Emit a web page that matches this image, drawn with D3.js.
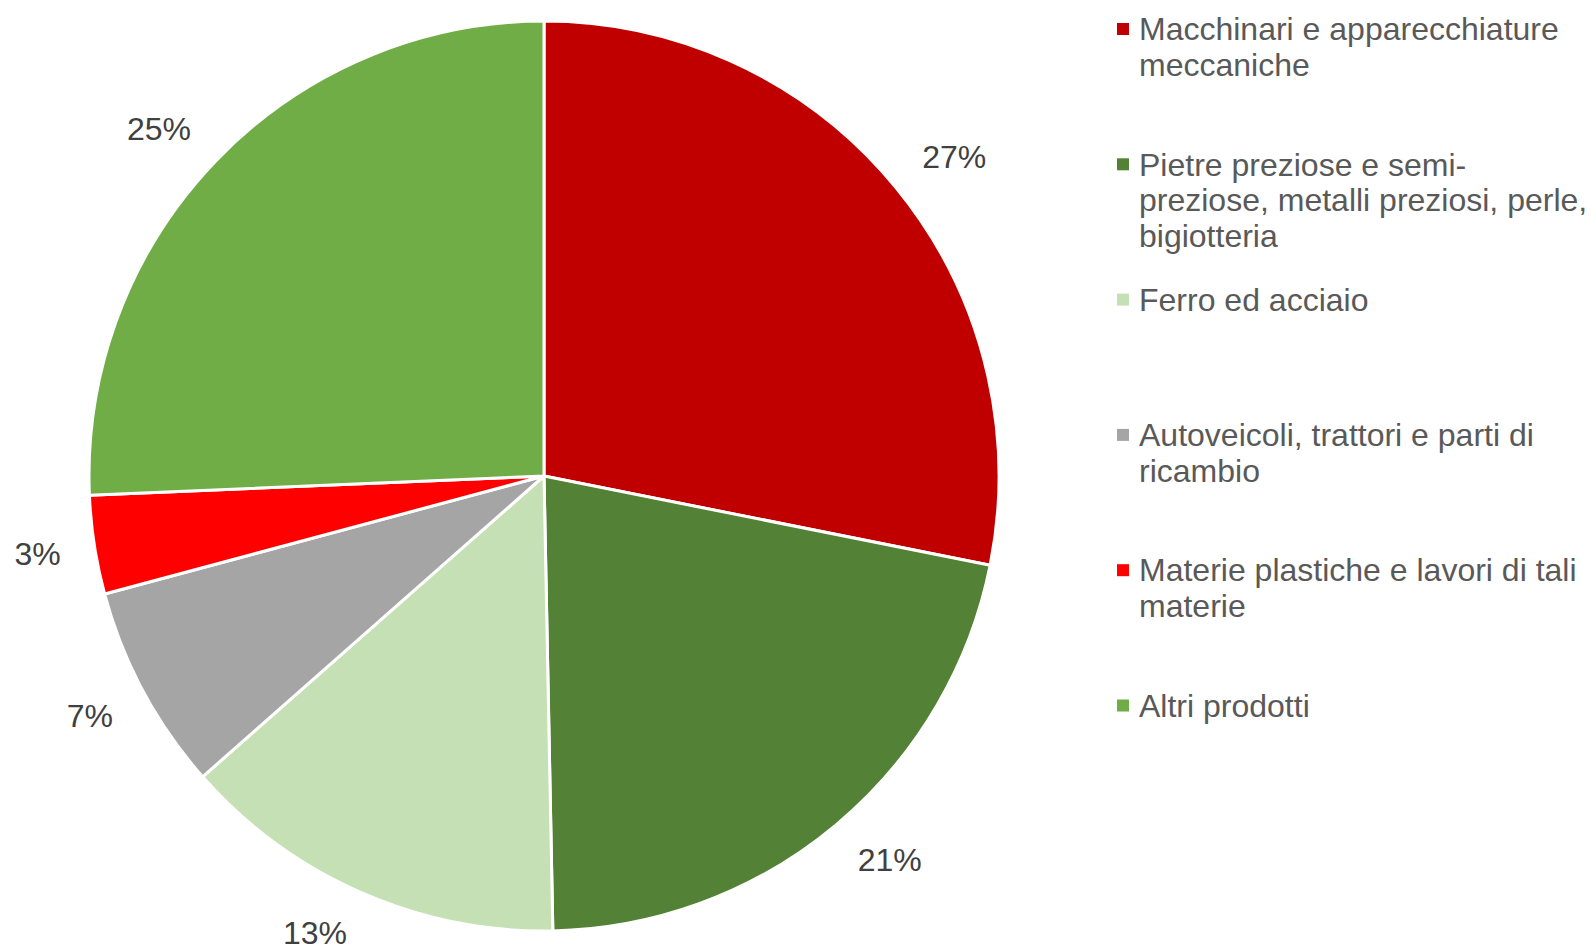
<!DOCTYPE html>
<html lang="it">
<head>
  <meta charset="UTF-8">
  <title>Composizione per prodotto</title>
  <script src="https://d3js.org/d3.v7.min.js"></script>
  <style>
    html, body { margin: 0; padding: 0; background: #fff; }
    svg { display: block; font-family: "Liberation Sans", Arial, sans-serif; }
  </style>
</head>
<body>
  <div id="chart"></div>

  <script>
    // dati (quote in %)
    const categories = [
      "Macchinari e apparecchiature meccaniche",
      "Pietre preziose e semi-preziose, metalli preziosi, perle, bigiotteria",
      "Ferro ed acciaio",
      "Autoveicoli, trattori e parti di ricambio",
      "Materie plastiche e lavori di tali materie",
      "Altri prodotti"
    ];
    const values = [27.3, 20.9, 13.4, 7.1, 3.4, 24.9];
    const colors = ["#C00000", "#538135", "#C5E0B4", "#A5A5A5", "#FF0000", "#70AD47"];

    const width = 1591;
    const height = 948;
    const cx = 544, cy = 476;
    const radius = 455;
    const fontSize = 32;

    const svg = d3.select("#chart")
      .append("svg")
      .attr("width", width)
      .attr("height", height);

    const color = d3.scaleOrdinal(categories, colors);

    const pie = d3.pie().sort(null).value(d => d.value);
    const data = categories.map((c, i) => ({ name: c, value: values[i] }));

    const arc = d3.arc().innerRadius(0).outerRadius(radius);
    const labelArc = d3.arc().innerRadius(radius + 34).outerRadius(radius + 34);

    const g = svg.append("g")
      .attr("transform", "translate(" + cx + "," + cy + ")");

    const arcs = g.selectAll(".arc")
      .data(pie(data))
      .enter()
      .append("g")
      .attr("class", "arc");

    arcs.append("path")
      .attr("d", arc)
      .attr("fill", d => color(d.data.name))
      .attr("stroke", "#fff")
      .attr("stroke-width", 3)
      .attr("stroke-linejoin", "round");

    // etichette all'esterno: l'angolo del riquadro si appoggia al punto sull'arco
    const labels = arcs.append("text")
      .attr("text-anchor", "middle")
      .attr("dy", "0.35em")
      .style("font-size", fontSize + "px")
      .style("fill", "#404040")
      .text(d => Math.round(d.data.value) + "%");

    const halfH = 9;
    const maxY = height - cy - 13;

    labels.attr("transform", function (d) {
      const p = labelArc.centroid(d);
      const a = (d.startAngle + d.endAngle) / 2;
      const s = Math.sin(a), c = -Math.cos(a);
      const w = this.getComputedTextLength();
      let x = p[0] + (w / 2) * Math.sign(s) * Math.min(1, Math.abs(s) * 3);
      let y = p[1] + halfH * Math.sign(c) * Math.min(1, Math.abs(c) * 3);
      // resta dentro il bordo inferiore scorrendo lungo il cerchio
      if (y > maxY) {
        const dist = Math.hypot(x, y);
        y = maxY;
        x = Math.sign(x) * Math.sqrt(dist * dist - y * y);
      }
      return "translate(" + x + "," + y + ")";
    });

    // legenda
    const legendX = 1117, legendY0 = 29, legendStep = 135.3, maxW = 452;

    const legend = svg.append("g").attr("class", "legend");

    const items = legend.selectAll(".item")
      .data(categories)
      .enter()
      .append("g")
      .attr("class", "item")
      .attr("transform", (d, i) => "translate(" + legendX + "," + (legendY0 + i * legendStep) + ")");

    items.append("rect")
      .attr("x", 0)
      .attr("y", -6)
      .attr("width", 12)
      .attr("height", 12)
      .attr("fill", d => color(d));

    items.append("text")
      .attr("x", 22)
      .style("font-size", fontSize + "px")
      .style("fill", "#595959")
      .each(function (d) { wrap(d3.select(this), d, maxW); });

    function wrap(text, str, w) {
      // spezza su spazi e dopo i trattini
      const words = str.split(/(?<=-)|\s+/).filter(s => s.length);
      const lines = [];
      let line = "";
      const probe = text.append("tspan");
      words.forEach(wd => {
        const sep = (line === "" || line.endsWith("-")) ? "" : " ";
        const test = line + sep + wd;
        probe.text(test);
        if (probe.node().getComputedTextLength() > w && line !== "") {
          lines.push(line);
          line = wd;
        } else {
          line = test;
        }
      });
      lines.push(line);
      probe.remove();
      lines.forEach((l, k) => {
        text.append("tspan")
          .attr("x", 22)
          .attr("dy", k === 0 ? "0.35em" : "36px")
          .text(l);
      });
    }
  </script>
</body>
</html>
